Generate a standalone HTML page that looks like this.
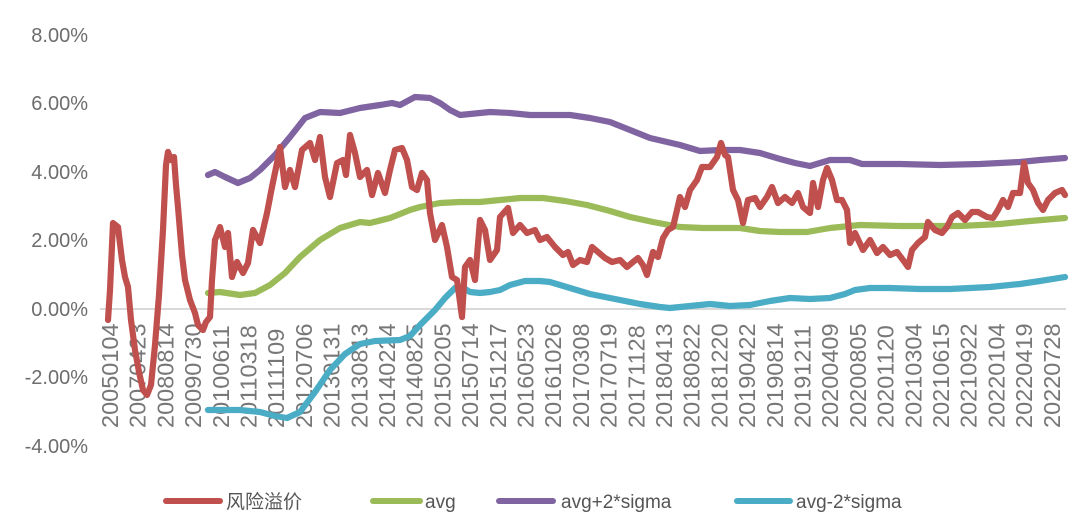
<!DOCTYPE html>
<html><head><meta charset="utf-8"><style>
html,body{margin:0;padding:0;background:#fff;}
svg{display:block;}
text{font-family:"Liberation Sans","Noto Sans CJK SC",sans-serif;}
</style></head><body>
<svg width="1086" height="528" viewBox="0 0 1086 528" xmlns="http://www.w3.org/2000/svg">
<g font-size="20" fill="#6d6d6d" text-anchor="end">
<text x="88" y="42">8.00%</text>
<text x="88" y="110">6.00%</text>
<text x="88" y="179">4.00%</text>
<text x="88" y="247">2.00%</text>
<text x="88" y="316">0.00%</text>
<text x="88" y="384">-2.00%</text>
<text x="88" y="453">-4.00%</text>
</g>
<line x1="100" y1="309" x2="1066" y2="309" stroke="#d9d9d9" stroke-width="2"/>
<g font-size="23.5" fill="#777">
<text transform="translate(118,428) rotate(-90)">20050104</text>
<text transform="translate(145.7,428) rotate(-90)">20070423</text>
<text transform="translate(173.4,428) rotate(-90)">20080814</text>
<text transform="translate(201.1,428) rotate(-90)">20090730</text>
<text transform="translate(228.8,428) rotate(-90)">20100611</text>
<text transform="translate(256.5,428) rotate(-90)">20110318</text>
<text transform="translate(284.2,428) rotate(-90)">20111109</text>
<text transform="translate(311.9,428) rotate(-90)">20120706</text>
<text transform="translate(339.6,428) rotate(-90)">20130131</text>
<text transform="translate(367.3,428) rotate(-90)">20130813</text>
<text transform="translate(395,428) rotate(-90)">20140224</text>
<text transform="translate(422.7,428) rotate(-90)">20140825</text>
<text transform="translate(450.4,428) rotate(-90)">20150205</text>
<text transform="translate(478.1,428) rotate(-90)">20150714</text>
<text transform="translate(505.8,428) rotate(-90)">20151217</text>
<text transform="translate(533.5,428) rotate(-90)">20160523</text>
<text transform="translate(561.2,428) rotate(-90)">20161026</text>
<text transform="translate(588.9,428) rotate(-90)">20170308</text>
<text transform="translate(616.6,428) rotate(-90)">20170719</text>
<text transform="translate(644.3,428) rotate(-90)">20171128</text>
<text transform="translate(672,428) rotate(-90)">20180413</text>
<text transform="translate(699.7,428) rotate(-90)">20180822</text>
<text transform="translate(727.4,428) rotate(-90)">20181220</text>
<text transform="translate(755.1,428) rotate(-90)">20190422</text>
<text transform="translate(782.8,428) rotate(-90)">20190814</text>
<text transform="translate(810.5,428) rotate(-90)">20191211</text>
<text transform="translate(838.2,428) rotate(-90)">20200409</text>
<text transform="translate(865.9,428) rotate(-90)">20200805</text>
<text transform="translate(893.6,428) rotate(-90)">20201120</text>
<text transform="translate(921.3,428) rotate(-90)">20210304</text>
<text transform="translate(949,428) rotate(-90)">20210615</text>
<text transform="translate(976.7,428) rotate(-90)">20210922</text>
<text transform="translate(1004.4,428) rotate(-90)">20220104</text>
<text transform="translate(1032.1,428) rotate(-90)">20220419</text>
<text transform="translate(1059.8,428) rotate(-90)">20220728</text>
</g>
<g fill="none" stroke-width="6.2" stroke-linejoin="round" stroke-linecap="round">
<polyline stroke="#4bacc6" points="208,410 220,410 240,410 260,412 275,416 287,418 300,412 315,392 330,370 345,354 360,344 375,341 400,340 410,336 420,325 435,310 445,298 455,288 462,287 470,292 480,293 490,292 500,290 510,285 525,281 540,281 550,282 570,288 590,294 610,298 640,304 660,307 670,308 690,306 710,304 730,306 750,305 770,301 790,298 810,299 830,298 845,294 855,290 870,288 890,288 920,289 950,289 990,287 1020,284 1040,281 1065,277"/>
<polyline stroke="#9bbb59" points="208,293 220,292 240,295 255,293 270,285 285,273 300,257 320,240 340,228 360,222 370,223 390,218 410,210 420,207 440,203 460,202 480,202 500,200 520,198 543,198 565,201 587,205 610,211 630,217 653,222 680,227 703,228 720,228 740,228 760,231 780,232 807,232 830,228 860,225 900,226 930,226 960,226 1000,224 1030,221 1065,218"/>
<polyline stroke="#8064a2" points="208,175 215,172 225,177 238,183 250,178 260,170 275,155 290,137 305,118 320,112 340,113 360,108 380,105 392,103 400,105 415,97 430,98 440,103 450,110 460,115 470,114 490,112 510,113 530,115 570,115 590,118 610,122 630,130 650,138 680,145 700,151 720,150 740,150 760,153 780,159 795,163 810,166 830,160 850,160 862,164 900,164 940,165 980,164 1020,162 1040,160 1065,158"/>
<polyline stroke="#c0504d" points="108,320 110,290 113,223 118,227 122,260 125,277 128,287 131,320 135,350 139,372 143,390 147,395 151,385 155,345 159,295 163,230 166,165 168,152 171,160 174,157 176,185 178,207 182,255 185,280 190,300 195,313 198,325 203,330 206,322 210,317 212,280 215,240 220,227 225,247 228,233 232,277 237,262 243,273 248,263 253,230 260,243 267,213 272,187 277,163 280,147 285,187 290,170 295,187 302,150 310,143 315,160 320,137 325,177 330,197 337,163 343,160 346,175 350,135 355,153 360,177 367,170 372,195 378,173 385,193 390,170 395,150 402,148 407,160 412,187 417,190 422,173 427,180 430,213 435,240 442,225 447,247 452,277 457,280 462,317 465,267 470,260 475,280 480,220 485,230 490,260 497,250 500,217 508,208 513,233 520,225 527,233 535,230 540,240 547,237 555,247 563,255 568,252 573,265 580,260 587,262 592,247 598,252 605,258 612,262 620,260 627,267 633,262 638,258 643,265 647,275 650,263 653,252 658,257 663,238 668,230 673,227 677,210 680,197 685,207 690,190 697,180 702,167 710,167 717,157 721,143 725,155 728,157 733,190 738,200 743,223 748,200 755,198 760,207 767,197 772,187 778,203 785,197 792,203 798,193 803,207 810,213 813,183 818,207 823,180 827,168 832,180 837,200 842,200 847,210 850,243 855,233 863,250 870,240 877,253 883,247 890,255 897,252 903,260 908,267 912,250 918,243 925,237 928,222 935,230 942,233 947,227 952,217 958,213 965,220 972,212 978,212 987,217 993,218 998,210 1003,200 1008,207 1013,193 1020,193 1024,163 1028,183 1033,190 1038,203 1043,210 1048,200 1055,193 1062,190 1065,195"/>
</g>
<g stroke-width="6" stroke-linecap="round">
<line x1="166" y1="501" x2="220" y2="501" stroke="#c0504d"/>
<line x1="373" y1="501" x2="420" y2="501" stroke="#9bbb59"/>
<line x1="499" y1="501" x2="553" y2="501" stroke="#8064a2"/>
<line x1="737" y1="501" x2="790" y2="501" stroke="#4bacc6"/>
</g>
<g font-size="19" fill="#555">
<text x="226" y="508">风险溢价</text>
<text x="425" y="508">avg</text>
<text x="561" y="508">avg+2*sigma</text>
<text x="796" y="508">avg-2*sigma</text>
</g>
</svg>
</body></html>
